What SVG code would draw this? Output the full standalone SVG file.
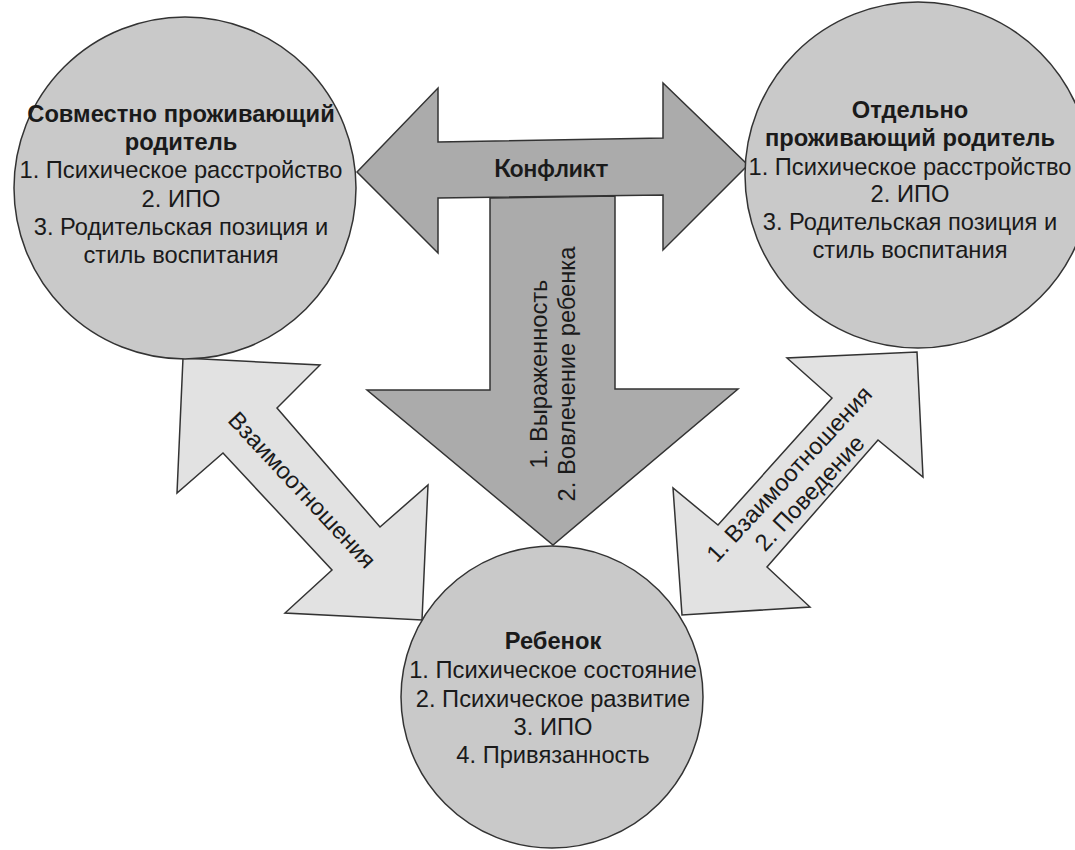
<svg xmlns="http://www.w3.org/2000/svg" width="1075" height="850" viewBox="0 0 1075 850">
<style>
.circle{fill:#c9c9c9;stroke:#333;stroke-width:1.5}
.dark{fill:#ababab;stroke:#333;stroke-width:1.5;stroke-linejoin:miter}
.light{fill:#e2e2e2;stroke:#333;stroke-width:1.5;stroke-linejoin:miter}
text{font-family:"Liberation Sans",Arial,sans-serif;font-size:23.7px;fill:#1a1a1a;text-anchor:middle}
.b{font-weight:bold}
.k{font-family:Lato,"Liberation Sans",sans-serif;font-weight:bold;font-size:24px}
</style>
<rect width="1075" height="850" fill="#fff"/>
<g id="connectors">
  <polygon class="dark" points="490,198 615,196 615,389 738,389 553,545 367,390 490,390"/>
  <polygon class="dark" points="357,172 438,88 438,142 663,138 663,83 748,165 663,250 663,195 438,198 438,253"/>
  <polygon class="light" points="183,358 320,365 277,408 380,527 428,485 422,620 285,613 332,570 223,453 177,493"/>
  <polygon class="light" points="917,352 923,477 878,440 767,567 810,607 682,615 673,488 718,525 832,398 787,358"/>
  <text class="k" x="551" y="177">Конфликт</text>
  <g transform="translate(547,374) rotate(-90)">
    <text x="0" y="0">1. Выраженность</text>
    <text x="0" y="28">2. Вовлечение ребенка</text>
  </g>
  <g transform="translate(302,490) rotate(47)">
    <text x="0" y="8">Взаимоотношения</text>
  </g>
  <g transform="translate(799.5,483.5) rotate(-47)">
    <text x="0" y="-6">1. Взаимоотношения</text>
    <text x="0" y="22">2. Поведение</text>
  </g>
</g>
<g id="node-cohabiting">
  <circle class="circle" cx="185" cy="188" r="171"/>
  <text class="b" x="181" y="122">Совместно проживающий</text>
  <text class="b" x="181" y="150">родитель</text>
  <text x="181" y="178">1. Психическое расстройство</text>
  <text x="181" y="207">2. ИПО</text>
  <text x="181" y="235">3. Родительская позиция и</text>
  <text x="181" y="263">стиль воспитания</text>
</g>
<g id="node-separate">
  <circle class="circle" cx="918" cy="175" r="173"/>
  <text class="b" x="910" y="118">Отдельно</text>
  <text class="b" x="910" y="146">проживающий родитель</text>
  <text x="910" y="175">1. Психическое расстройство</text>
  <text x="910" y="202">2. ИПО</text>
  <text x="910" y="230">3. Родительская позиция и</text>
  <text x="910" y="258">стиль воспитания</text>
</g>
<g id="node-child">
  <circle class="circle" cx="552" cy="697" r="151"/>
  <text class="b" x="553" y="649">Ребенок</text>
  <text x="553" y="678">1. Психическое состояние</text>
  <text x="553" y="707">2. Психическое развитие</text>
  <text x="553" y="735">3. ИПО</text>
  <text x="553" y="763">4. Привязанность</text>
</g>
</svg>
